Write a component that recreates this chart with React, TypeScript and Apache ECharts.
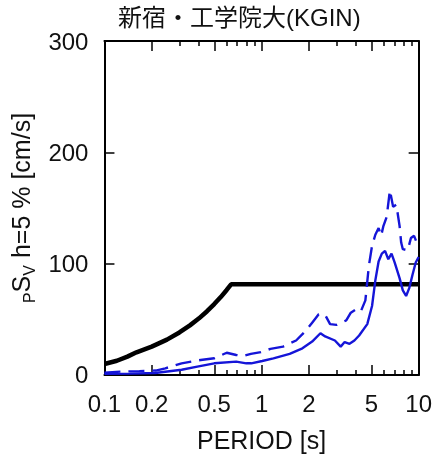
import React, { useEffect, useRef } from "react";
import * as echarts from "echarts";

const titleText = "新宿・工学院大(KGIN)";
const xAxisName = "PERIOD [s]";
const yAxisName = "{s|P}S{s|V} h=5 % [cm/s]";

const xLabelValues = [0.1, 0.2, 0.5, 1, 2, 5, 10];
const xMinorValues = [0.3, 0.4, 0.6, 0.7, 0.8, 0.9, 3, 4, 6, 7, 8, 9];

// black: design (notification) spectrum
const codePeriod = [0.1, 0.12, 0.14, 0.16, 0.2, 0.25, 0.3, 0.35, 0.4, 0.45, 0.5, 0.55, 0.6, 0.64, 10];
const codeSv = [9.9, 12.8, 16.5, 20.4, 25.5, 31.8, 38.2, 44.6, 50.9, 57.3, 63.7, 70.0, 76.4, 81.5, 81.5];

// blue solid
const solidPeriod = [0.1, 0.145, 0.21, 0.31, 0.39, 0.5, 0.69, 0.8, 0.86, 1.01, 1.19, 1.51, 1.82, 2.1, 2.37, 2.54, 2.93, 3.19, 3.38, 3.63, 3.9, 4.18, 4.71, 5.05, 5.3, 5.56, 5.83, 6.11, 6.41, 6.72, 7.04, 7.56, 7.93, 8.32, 8.71, 9.14, 9.58, 10];
const solidSv = [1, 1.2, 1.8, 4.7, 7.5, 10.5, 12, 10.5, 10.5, 12.6, 15, 19, 24, 30, 37.5, 34.6, 31, 25.5, 29.6, 28, 31, 35.5, 45.7, 62, 85, 102, 109, 111.5, 104, 109, 101, 87, 76, 71, 78, 90, 101, 106];

// blue dashed
const dashPeriod = [0.1, 0.126, 0.167, 0.212, 0.244, 0.31, 0.41, 0.5, 0.6, 0.69, 0.76, 0.855, 0.99, 1.14, 1.37, 1.66, 1.92, 2.1, 2.31, 2.54, 2.73, 3.0, 3.46, 3.7, 3.99, 4.28, 4.58, 4.82, 5.05, 5.3, 5.56, 5.77, 5.97, 6.26, 6.56, 6.88, 7.21, 7.56, 7.74, 7.93, 8.52, 8.93, 9.35, 9.72, 10];
const dashSv = [2, 3, 3.5, 4, 6, 10.5, 13.5, 15, 20, 18, 17, 19, 20.5, 23.5, 25.5, 31, 40, 47, 54.5, 54, 45.7, 45, 49, 56, 59, 57, 67, 98, 116, 126, 132, 125, 134, 142, 166, 151, 153, 134, 119, 113, 112, 123, 125, 119, 118];

const zip = (xs: number[], ys: number[]) => xs.map((x, i) => [x, ys[i]]);

const FONT = "'Liberation Sans', Arial, 'Noto Sans CJK JP', sans-serif";
const BLUE = "#1515d8";

export default function App() {
  const ref = useRef<HTMLDivElement>(null);
  useEffect(() => {
    if (!ref.current) return;
    const chart = echarts.init(ref.current, null, { renderer: "svg" });
    const baseX = {
      type: "log" as const,
      logBase: 10,
      min: 0.1,
      max: 10,
      gridIndex: 0,
      splitLine: { show: false },
      minorTick: { show: false },
      minorSplitLine: { show: false },
    };
    chart.setOption({
      animation: false,
      textStyle: { fontFamily: FONT, color: "#000" },
      title: {
        text: titleText,
        left: 118,
        top: 5,
        padding: 0,
        textStyle: { fontFamily: FONT, fontSize: 24, fontWeight: "normal", color: "#111" },
      },
      grid: { left: 104, right: 7, top: 41, bottom: 75, containLabel: false },
      xAxis: [
        {
          ...baseX,
          position: "bottom",
          name: xAxisName,
          nameLocation: "middle",
          nameGap: 52,
          nameTextStyle: { fontFamily: FONT, fontSize: 25, color: "#111" },
          axisLine: { show: true, lineStyle: { color: "#000", width: 2 } },
          axisTick: { show: true, inside: true, length: 10, lineStyle: { color: "#000", width: 1.5 }, customValues: xLabelValues },
          axisLabel: {
            show: true,
            customValues: xLabelValues,
            margin: 17,
            fontSize: 24,
            fontFamily: FONT,
            color: "#111",
            formatter: (v: number) => String(Math.round(v * 10) / 10),
          },
        },
        {
          ...baseX,
          position: "bottom",
          axisLine: { show: false },
          axisTick: { show: true, inside: true, length: 5, lineStyle: { color: "#000", width: 1.5 }, customValues: xMinorValues },
          axisLabel: { show: false },
        },
        {
          ...baseX,
          position: "top",
          axisLine: { show: true, lineStyle: { color: "#000", width: 2 } },
          axisTick: { show: true, inside: true, length: 10, lineStyle: { color: "#000", width: 1.5 }, customValues: xLabelValues },
          axisLabel: { show: false },
        },
        {
          ...baseX,
          position: "top",
          axisLine: { show: false },
          axisTick: { show: true, inside: true, length: 5, lineStyle: { color: "#000", width: 1.5 }, customValues: xMinorValues },
          axisLabel: { show: false },
        },
      ],
      yAxis: [
        {
          type: "value",
          position: "left",
          min: 0,
          max: 300,
          interval: 100,
          name: yAxisName,
          nameLocation: "middle",
          nameGap: 62,
          nameRotate: 90,
          nameTextStyle: {
            fontFamily: FONT,
            fontSize: 25,
            color: "#111",
            rich: {
              s: { fontFamily: FONT, fontSize: 16, color: "#111", verticalAlign: "bottom", lineHeight: 34 },
            },
          },
          splitLine: { show: false },
          axisLine: { show: true, lineStyle: { color: "#000", width: 2 } },
          axisTick: { show: true, inside: true, length: 10, lineStyle: { color: "#000", width: 1.5 } },
          axisLabel: { show: true, margin: 16, fontSize: 24, fontFamily: FONT, color: "#111" },
        },
        {
          type: "value",
          position: "right",
          min: 0,
          max: 300,
          interval: 100,
          splitLine: { show: false },
          axisLine: { show: true, lineStyle: { color: "#000", width: 2 } },
          axisTick: { show: true, inside: true, length: 10, lineStyle: { color: "#000", width: 1.5 } },
          axisLabel: { show: false },
        },
      ],
      series: [
        {
          type: "line",
          xAxisIndex: 0,
          yAxisIndex: 0,
          data: zip(codePeriod, codeSv),
          showSymbol: false,
          lineStyle: { color: "#000", width: 4.5 },
          z: 2,
        },
        {
          type: "line",
          xAxisIndex: 0,
          yAxisIndex: 0,
          data: zip(dashPeriod, dashSv),
          showSymbol: false,
          lineStyle: { color: BLUE, width: 2.4, type: [16, 8] },
          z: 3,
        },
        {
          type: "line",
          xAxisIndex: 0,
          yAxisIndex: 0,
          data: zip(solidPeriod, solidSv),
          showSymbol: false,
          lineStyle: { color: BLUE, width: 2.4 },
          z: 3,
        },
      ],
    });
    return () => chart.dispose();
  }, []);
  return <div ref={ref} style={{ position: "fixed", left: 0, top: 0, width: 435, height: 457 }} />;
}
